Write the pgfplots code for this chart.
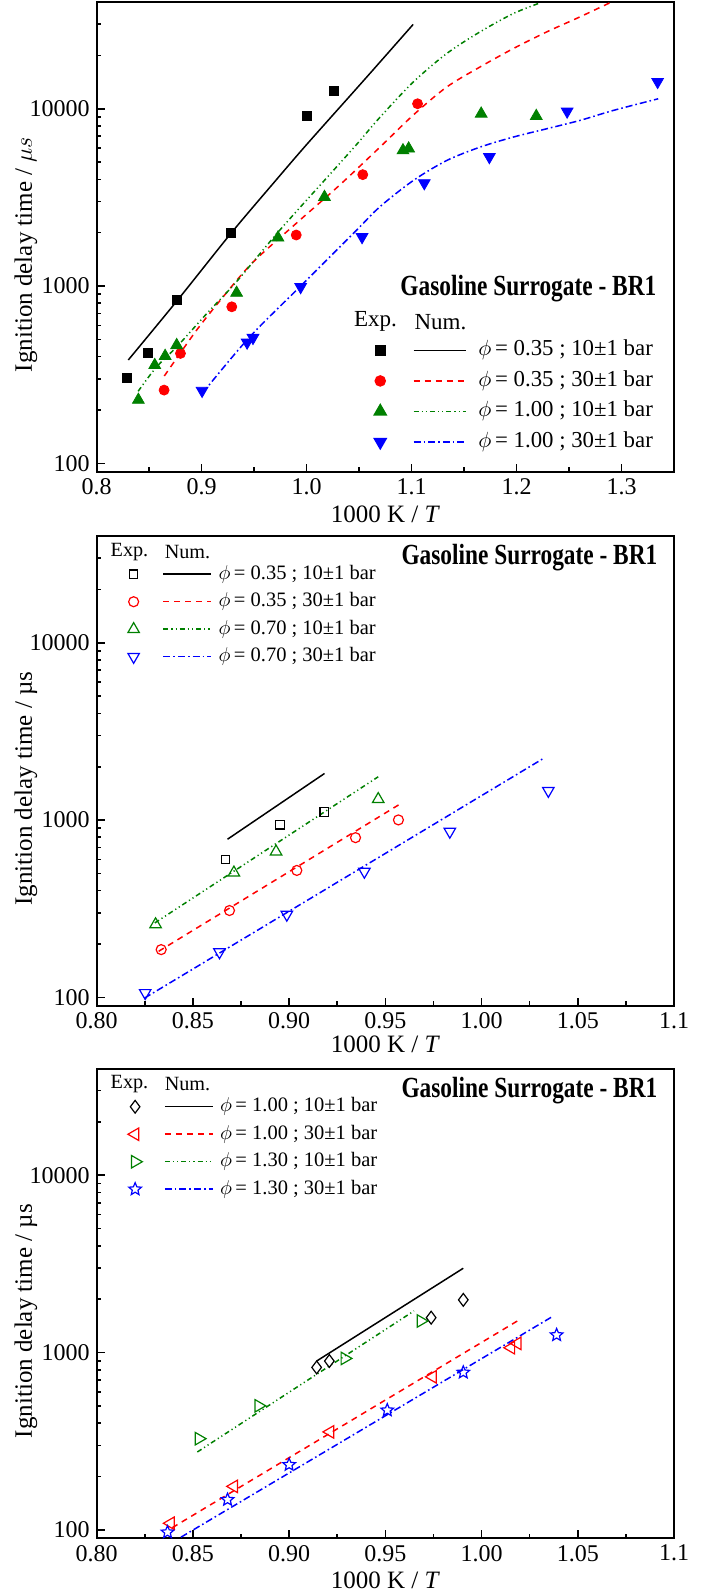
\documentclass[border=0pt]{standalone}
\usepackage{fontspec}
\setmainfont{Liberation Serif}
\usepackage{pgfplots}
\pgfplotsset{compat=1.18}
\definecolor{cgreen}{RGB}{0,128,0}

% open five-pointed star
\pgfdeclareplotmark{ostar}{%
  \pgfpathmoveto{\pgfpointpolar{90}{\pgfplotmarksize}}%
  \pgfpathlineto{\pgfpointpolar{126}{0.45\pgfplotmarksize}}%
  \pgfpathlineto{\pgfpointpolar{162}{\pgfplotmarksize}}%
  \pgfpathlineto{\pgfpointpolar{198}{0.45\pgfplotmarksize}}%
  \pgfpathlineto{\pgfpointpolar{234}{\pgfplotmarksize}}%
  \pgfpathlineto{\pgfpointpolar{270}{0.45\pgfplotmarksize}}%
  \pgfpathlineto{\pgfpointpolar{306}{\pgfplotmarksize}}%
  \pgfpathlineto{\pgfpointpolar{342}{0.45\pgfplotmarksize}}%
  \pgfpathlineto{\pgfpointpolar{18}{\pgfplotmarksize}}%
  \pgfpathlineto{\pgfpointpolar{54}{0.45\pgfplotmarksize}}%
  \pgfpathclose
  \pgfusepathqstroke
}

\tikzset{
  lblack/.style={black, line width=0.75pt, solid},
  lred/.style={red, line width=0.75pt, dash pattern=on 3pt off 2.5pt},
  lgreen/.style={cgreen, line width=0.75pt, dash pattern=on 2.5pt off 1.5pt on 0.6pt off 1.5pt on 0.6pt off 1.5pt},
  lblue/.style={blue, line width=0.75pt, dash pattern=on 3.5pt off 1.5pt on 0.8pt off 1.5pt},
}

\begin{document}
\begin{tikzpicture}
\useasboundingbox (0,0) rectangle (352pt,-796.5pt);

% ---------------- (a) ----------------
\begin{axis}[
  at={(48.35pt,-1pt)}, anchor=north west,
  scale only axis, width=288.65pt, height=234.75pt,
  ymode=log, ymin=90, ymax=40000,
  ytick={100,1000,10000}, yticklabels={\textrm{100},\textrm{1000},\textrm{10000}},
  minor ytick={200,300,400,500,600,700,800,900,2000,3000,4000,5000,6000,7000,8000,9000,20000,30000},
  xmin=0.8, xmax=1.35,
  xtick={0.8,0.9,1.0,1.1,1.2,1.3}, xticklabels={\textrm{0.8},\textrm{0.9},\textrm{1.0},\textrm{1.1},\textrm{1.2},\textrm{1.3}},
  minor xtick={0.85,0.95,1.05,1.15,1.25},
  tick align=inside, xtick pos=left, ytick pos=left,
  major tick length=4pt, minor tick length=2.25pt,
  axis line style={line width=1pt},
  tick style={black, line width=0.8pt},
  tick label style={font=\fontsize{12}{14}\selectfont},
  label style={font=\fontsize{12.5}{15}\selectfont},
  xlabel={1000 K / \textit{T}},
  ylabel={Ignition delay time / $\mu s$},
  xlabel style={at={(axis description cs:0.5,-0.092)}, anchor=center},
  ylabel style={at={(axis description cs:-0.1225,0.462)}, anchor=center},
  legend cell align=left,
  legend style={draw=none, fill=none, inner sep=0pt, column sep=0pt, row sep=4.75pt,
    at={(axis description cs:0.4803,0.1604)}, anchor=west,
    nodes={inner xsep=0pt, inner ysep=0pt, text height=8pt, text depth=2.5pt,
           font=\fontsize{11.4}{13}\selectfont}},
  legend image code/.code={
    \draw[#1] plot coordinates {(0pt,0pt)};
    \draw[#1,mark=none] (16.65pt,0pt) -- (42.85pt,0pt);
    \path[draw=none,fill=none] (0pt,0pt) -- (49pt,0pt);},
]
\addplot[lblack, smooth, forget plot] coordinates {(0.8301,383) (0.8771,834) (0.9279,1983) (0.9691,3850) (1.0007,6350) (1.0539,14330) (1.1015,29900)};
\addplot[lred, smooth, forget plot] coordinates {(0.8644,311) (0.8946,558) (0.92,863) (0.9486,1358) (0.9898,2250) (1.031,3690) (1.0698,6070) (1.1015,9200) (1.1333,13240) (1.165,17180) (1.1968,21830) (1.2286,27100) (1.2603,32950) (1.2905,40000)};
\addplot[lgreen, smooth, forget plot] coordinates {(0.8395,255) (0.8565,347) (0.8771,460) (0.9049,700) (0.9327,1050) (0.9739,2050) (1.0168,3935) (1.0468,6210) (1.07,8970) (1.1015,14130) (1.1333,20450) (1.165,27100) (1.1968,34400) (1.2222,39500)};
\addplot[lblue, smooth, forget plot] coordinates {(0.901,250) (0.9453,513) (0.9962,1026) (1.047,2050) (1.0698,2800) (1.1015,3935) (1.1333,5100) (1.165,6070) (1.1968,6920) (1.2286,7710) (1.2603,8590) (1.2921,9780) (1.3349,11380)};
\addplot[only marks, black, mark=square*, mark size=2.25pt, forget plot] coordinates {(0.8287,304) (0.8489,422) (0.8762,839) (0.9277,1994) (1.0007,9090) (1.0262,12570)};
\addplot[only marks, red, mark=*, mark size=2.5pt, forget plot] coordinates {(0.8642,259) (0.8798,417) (0.9287,764) (0.9901,1941) (1.0535,4250) (1.1057,10670)};
\addplot[only marks, cgreen, mark=triangle*, mark size=3.4pt, forget plot] coordinates {(0.8397,228) (0.8553,358) (0.8652,403) (0.8762,464) (0.9333,915) (0.9727,1875) (1.0170,3177) (1.0918,5820) (1.0972,5960) (1.1663,9370) (1.2188,9090)};
\addplot[only marks, blue, mark=triangle*, mark size=3.4pt, mark options={rotate=180}, forget plot] coordinates {(0.9004,257) (0.9433,481) (0.9489,511) (0.9943,989) (1.0528,1893) (1.1121,3810) (1.1741,5350) (1.2482,9660) (1.3344,14190)};
\addlegendimage{lblack, mark=square*, mark size=2.25pt, mark options={solid}}
\addlegendentry{$\phi$\,= 0.35 ; 10±1 bar}
\addlegendimage{lred, mark=*, mark size=2.5pt, mark options={solid}}
\addlegendentry{$\phi$\,= 0.35 ; 30±1 bar}
\addlegendimage{lgreen, mark=triangle*, mark size=3.4pt, mark options={solid}}
\addlegendentry{$\phi$\,= 1.00 ; 10±1 bar}
\addlegendimage{lblue, mark=triangle*, mark size=3.4pt, mark options={solid, rotate=180}}
\addlegendentry{$\phi$\,= 1.00 ; 30±1 bar}
\node[anchor=east, xscale=0.8, font=\bfseries\fontsize{14.6}{16}\selectfont] at (axis description cs:0.9792,0.3902) {Gasoline Surrogate - BR1};
\node[font=\fontsize{11.5}{13}\selectfont] at (axis description cs:0.4829,0.3191) {Exp.};
\node[font=\fontsize{11.5}{13}\selectfont] at (axis description cs:0.5955,0.3191) {Num.};
\node[font=\fontsize{12}{14}\selectfont] at (axis description cs:-0.0748,-0.0607) {(a)};
\end{axis}

% ---------------- (b) ----------------
\begin{axis}[
  at={(48.35pt,-268pt)}, anchor=north west,
  scale only axis, width=288.65pt, height=234.75pt,
  ymode=log, ymin=90, ymax=40000,
  ytick={100,1000,10000}, yticklabels={\textrm{100},\textrm{1000},\textrm{10000}},
  minor ytick={200,300,400,500,600,700,800,900,2000,3000,4000,5000,6000,7000,8000,9000,20000,30000},
  xmin=0.8, xmax=1.1,
  xtick={0.8,0.85,0.9,0.95,1.0,1.05,1.1}, xticklabels={\textrm{0.80},\textrm{0.85},\textrm{0.90},\textrm{0.95},\textrm{1.00},\textrm{1.05},\textrm{1.1}},
  minor xtick={0.825,0.875,0.925,0.975,1.025,1.075},
  tick align=inside, xtick pos=left, ytick pos=left,
  major tick length=4pt, minor tick length=2.25pt,
  axis line style={line width=1pt},
  tick style={black, line width=0.8pt},
  tick label style={font=\fontsize{12}{14}\selectfont},
  label style={font=\fontsize{12.5}{15}\selectfont},
  xlabel={1000 K / \textit{T}},
  ylabel={Ignition delay time / µs},
  xlabel style={at={(axis description cs:0.5,-0.082)}, anchor=center},
  ylabel style={at={(axis description cs:-0.1225,0.462)}, anchor=center},
  legend cell align=left,
  legend style={draw=none, fill=none, inner sep=0pt, column sep=0pt, row sep=4.25pt,
    at={(axis description cs:0.0534,0.8307)}, anchor=west,
    nodes={inner xsep=0pt, inner ysep=0pt, text height=7.2pt, text depth=2.3pt,
           font=\fontsize{10.25}{12}\selectfont}},
  legend image code/.code={
    \draw[#1] plot coordinates {(0pt,0pt)};
    \draw[#1,mark=none] (14.85pt,0pt) -- (38.85pt,0pt);
    \path[draw=none,fill=none] (0pt,0pt) -- (42.5pt,0pt);},
]
\addplot[lblack, forget plot] coordinates {(0.8680,780) (0.9184,1832)};
\addplot[lred, forget plot] coordinates {(0.8322,182) (0.9576,1231)};
\addplot[lgreen, forget plot] coordinates {(0.8302,263) (0.9463,1755)};
\addplot[lblue, forget plot] coordinates {(0.8248,99) (1.0322,2228)};
\addplot[only marks, black, mark=square, mark size=2.1pt, mark options={line width=0.6pt}, forget plot] coordinates {(0.8669,600) (0.8953,940) (0.9182,1112)};
\addplot[only marks, red, mark=o, mark size=2.5pt, mark options={line width=0.6pt}, forget plot] coordinates {(0.8335,186) (0.869,309) (0.904,520) (0.9345,796) (0.9568,1002)};
\addplot[only marks, cgreen, mark=triangle, mark size=3.3pt, mark options={line width=0.6pt}, forget plot] coordinates {(0.8306,258) (0.8713,505) (0.8932,664) (0.9463,1312)};
\addplot[only marks, blue, mark=triangle, mark size=3.3pt, mark options={line width=0.6pt, rotate=180}, forget plot] coordinates {(0.8252,106) (0.8638,180) (0.8988,293) (0.9391,512) (0.9835,861) (1.0347,1463)};
\addlegendimage{lblack, mark=square, mark size=2.1pt, mark options={solid, line width=0.6pt}}
\addlegendentry{$\phi$\,= 0.35 ; 10±1 bar}
\addlegendimage{lred, mark=o, mark size=2.5pt, mark options={solid, line width=0.6pt}}
\addlegendentry{$\phi$\,= 0.35 ; 30±1 bar}
\addlegendimage{lgreen, mark=triangle, mark size=3.3pt, mark options={solid, line width=0.6pt}}
\addlegendentry{$\phi$\,= 0.70 ; 10±1 bar}
\addlegendimage{lblue, mark=triangle, mark size=3.3pt, mark options={solid, line width=0.6pt, rotate=180}}
\addlegendentry{$\phi$\,= 0.70 ; 30±1 bar}
\node[anchor=east, xscale=0.8, font=\bfseries\fontsize{14.6}{16}\selectfont] at (axis description cs:0.981,0.9531) {Gasoline Surrogate - BR1};
\node[font=\fontsize{10.1}{12}\selectfont] at (axis description cs:0.0568,0.9659) {Exp.};
\node[font=\fontsize{10.1}{12}\selectfont] at (axis description cs:0.1573,0.9659) {Num.};
\node[font=\fontsize{12}{14}\selectfont] at (axis description cs:-0.0748,-0.068) {(b)};
\end{axis}

% ---------------- (c) ----------------
\begin{axis}[
  at={(48.35pt,-534.25pt)}, anchor=north west,
  scale only axis, width=288.65pt, height=234.75pt,
  ymode=log, ymin=90, ymax=40000,
  ytick={100,1000,10000}, yticklabels={\textrm{100},\textrm{1000},\textrm{10000}},
  minor ytick={200,300,400,500,600,700,800,900,2000,3000,4000,5000,6000,7000,8000,9000,20000,30000},
  xmin=0.8, xmax=1.1,
  xtick={0.8,0.85,0.9,0.95,1.0,1.05,1.1}, xticklabels={\textrm{0.80},\textrm{0.85},\textrm{0.90},\textrm{0.95},\textrm{1.00},\textrm{1.05},\textrm{1.1}},
  minor xtick={0.825,0.875,0.925,0.975,1.025,1.075},
  tick align=inside, xtick pos=left, ytick pos=left,
  major tick length=4pt, minor tick length=2.25pt,
  axis line style={line width=1pt},
  tick style={black, line width=0.8pt},
  tick label style={font=\fontsize{12}{14}\selectfont},
  label style={font=\fontsize{12.5}{15}\selectfont},
  xlabel={1000 K / \textit{T}},
  ylabel={Ignition delay time / µs},
  xlabel style={at={(axis description cs:0.5,-0.09)}, anchor=center},
  ylabel style={at={(axis description cs:-0.1225,0.462)}, anchor=center},
  legend cell align=left,
  legend style={draw=none, fill=none, inner sep=0pt, column sep=0pt, row sep=4.25pt,
    at={(axis description cs:0.0534,0.8307)}, anchor=west,
    nodes={inner xsep=0pt, inner ysep=0pt, text height=7.2pt, text depth=2.3pt,
           font=\fontsize{10.25}{12}\selectfont}},
  legend image code/.code={
    \draw[#1] plot coordinates {(0pt,0pt)};
    \draw[#1,mark=none] (14.85pt,0pt) -- (38.85pt,0pt);
    \path[draw=none,fill=none] (0pt,0pt) -- (42.5pt,0pt);},
]
\addplot[lblack, forget plot] coordinates {(0.9143,896) (0.9905,2990)};
\addplot[lred, forget plot] coordinates {(0.8393,103) (1.0186,1507)};
\addplot[lgreen, forget plot] coordinates {(0.8523,275) (0.9649,1718)};
\addplot[lblue, forget plot] coordinates {(0.8438,91) (1.0368,1596)};
\addplot[only marks, black, mark=diamond, mark size=3.2pt, mark options={line width=0.6pt}, forget plot] coordinates {(0.9143,825) (0.9209,896) (0.9738,1574) (0.9905,1983)};
\addplot[only marks, red, mark=triangle, mark size=3.6pt, mark options={line width=0.6pt, rotate=90}, forget plot] coordinates {(0.8384,109) (0.8713,176) (0.9213,357) (0.9746,730) (1.0153,1065) (1.0186,1127)};
\addplot[only marks, cgreen, mark=triangle, mark size=3.6pt, mark options={line width=0.6pt, rotate=-90}, forget plot] coordinates {(0.8531,327) (0.8841,501) (0.9289,927) (0.9684,1507)};
\addplot[only marks, blue, mark=ostar, mark size=3.3pt, mark options={line width=0.6pt}, forget plot] coordinates {(0.8368,97) (0.868,148) (0.900,233) (0.951,473) (0.9905,773) (1.0390,1256)};
\addlegendimage{lblack, mark=diamond, mark size=3.2pt, mark options={solid, line width=0.6pt}}
\addlegendentry{$\phi$\,= 1.00 ; 10±1 bar}
\addlegendimage{lred, mark=triangle, mark size=3.6pt, mark options={solid, line width=0.6pt, rotate=90}}
\addlegendentry{$\phi$\,= 1.00 ; 30±1 bar}
\addlegendimage{lgreen, mark=triangle, mark size=3.6pt, mark options={solid, line width=0.6pt, rotate=-90}}
\addlegendentry{$\phi$\,= 1.30 ; 10±1 bar}
\addlegendimage{lblue, mark=ostar, mark size=3.3pt, mark options={solid, line width=0.6pt}}
\addlegendentry{$\phi$\,= 1.30 ; 30±1 bar}
\node[anchor=east, xscale=0.8, font=\bfseries\fontsize{14.6}{16}\selectfont] at (axis description cs:0.981,0.9531) {Gasoline Surrogate - BR1};
\node[font=\fontsize{10.1}{12}\selectfont] at (axis description cs:0.0568,0.9659) {Exp.};
\node[font=\fontsize{10.1}{12}\selectfont] at (axis description cs:0.1573,0.9659) {Num.};
\node[font=\fontsize{12}{14}\selectfont] at (axis description cs:-0.0748,-0.072) {(c)};
\end{axis}
\end{tikzpicture}
\end{document}
